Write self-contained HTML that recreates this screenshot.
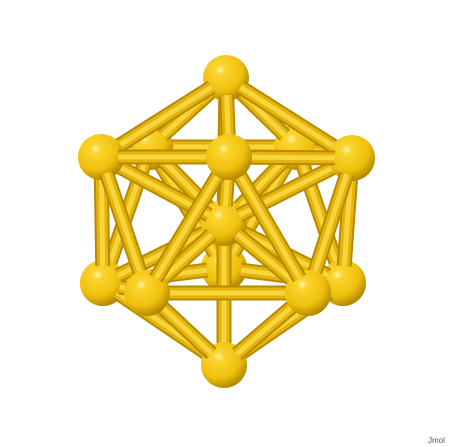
<!DOCTYPE html>
<html><head><meta charset="utf-8">
<style>
html,body{margin:0;padding:0;background:#fff;}
svg{display:block;}
.lbl{font-family:"Liberation Sans",sans-serif;font-size:8px;fill:#555;}
</style></head>
<body>
<svg id="chart" width="450" height="447" viewBox="0 0 450 447">
<defs>
<radialGradient id="ball" cx="0.38" cy="0.32" r="0.72">
<stop offset="0" stop-color="#fff3b0"/>
<stop offset="0.15" stop-color="#fbd52e"/>
<stop offset="0.65" stop-color="#efbf0c"/>
<stop offset="1" stop-color="#a98200"/>
</radialGradient>
</defs>
<g id="scene"></g>
<text class="lbl" x="428" y="443">Jmol</text>
</svg>
<script>
const atomNames=["top","UL","UF","UR","UBR","UBL","C","LL","LF","LR","LRB","LB","bottom"];
const atomX=[226,101,229,352,297,150,224,103,147,308,343,224,224];
const atomY=[78,157,157,158,147,147,223,283,293,293,283,268,365];
const atomZ=[0,0.31,1,0.31,-0.81,-0.81,0,-0.31,0.81,0.81,-0.31,-1,0];
const edges=[[0,1],[0,2],[0,3],[0,4],[0,5],[1,2],[2,3],[3,4],[4,5],[5,1],
[12,7],[12,8],[12,9],[12,10],[12,11],[7,8],[8,9],[9,10],[10,11],[11,7],
[2,8],[2,9],[1,7],[1,8],[3,9],[3,10],[4,10],[4,11],[5,11],[5,7]];
const centerBonds=[0,1,2,3,4,5,7,8,9,10,11,12];
const NS="http://www.w3.org/2000/svg";
const R=23, TRIM=17;
const scene=document.getElementById('scene');
const items=[];
edges.forEach(e=>items.push({t:'b',a:e[0],b:e[1],z:(atomZ[e[0]]+atomZ[e[1]])/2}));
centerBonds.forEach(i=>items.push({t:'b',a:6,b:i,z:(atomZ[6]+atomZ[i])/2}));
atomX.forEach((_,i)=>items.push({t:'a',i:i,z:atomZ[i]}));
items.sort((p,q)=>p.z-q.z);
function line(g,x1,y1,x2,y2,col,w){
  const l=document.createElementNS(NS,'line');
  l.setAttribute('x1',x1);l.setAttribute('y1',y1);
  l.setAttribute('x2',x2);l.setAttribute('y2',y2);
  l.setAttribute('stroke',col);l.setAttribute('stroke-width',w);
  g.appendChild(l);
}
items.forEach(it=>{
  if(it.t==='b'){
    const ax=atomX[it.a],ay=atomY[it.a],bx=atomX[it.b],by=atomY[it.b];
    const L=Math.hypot(bx-ax,by-ay),ux=(bx-ax)/L,uy=(by-ay)/L;
    const x1=ax+ux*TRIM,y1=ay+uy*TRIM,x2=bx-ux*TRIM,y2=by-uy*TRIM;
    const g=document.createElementNS(NS,'g');
    
    
    line(g,x1,y1,x2,y2,'#b58a00',15);
    line(g,x1,y1,x2,y2,'#e4b40a',11);
    line(g,x1,y1,x2,y2,'#f8d53c',5);
    scene.appendChild(g);
  } else {
    const i=it.i;
    const c=document.createElementNS(NS,'circle');
    c.setAttribute('cx',atomX[i]);c.setAttribute('cy',atomY[i]);
    c.setAttribute('r',R);c.setAttribute('fill','url(#ball)');
    
    
    scene.appendChild(c);
  }
});
</script>
</body></html>
